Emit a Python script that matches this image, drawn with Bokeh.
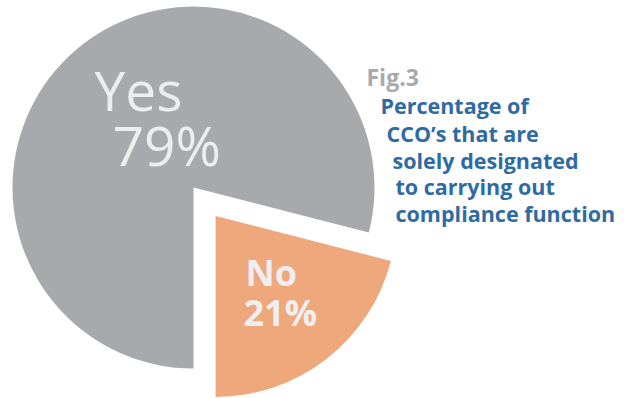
import math
from bokeh.plotting import figure
from bokeh.models import ColumnDataSource, Range1d
from bokeh.core.properties import value
from bokeh.embed import file_html
from bokeh.resources import INLINE

# ---- data ----
categories = ["No", "Yes"]
percentages = [21, 79]
pct_labels = ["21%", "79%"]
slice_colors = ["#efa77c", "#a7a9ac"]
explode = [36, 0]
fig_label = "Fig.3"
title_lines = ["Percentage of", "CCO\u2019s that are", "solely designated",
               "to carrying out", "compliance function"]

W, H = 629, 398
cx, cy, R = 193, H - 187, 181

p = figure(width=W, height=H, x_range=Range1d(0, W), y_range=Range1d(0, H),
           output_backend="svg", toolbar_location=None, min_border=0)
p.axis.visible = False
p.grid.visible = False
p.outline_line_color = None
p.background_fill_color = "white"
p.border_fill_color = "white"

total = sum(percentages)
start = -math.pi / 2
xs, ys, starts, ends = [], [], [], []
for pct, ex in zip(percentages, explode):
    sweep = 2 * math.pi * pct / total
    mid = start + sweep / 2
    xs.append(cx + ex * math.cos(mid))
    ys.append(cy + ex * math.sin(mid))
    starts.append(start)
    ends.append(start + sweep)
    start += sweep

src = ColumnDataSource(dict(x=xs, y=ys, start=starts, end=ends, color=slice_colors,
                            cat=categories, pct=pct_labels))
p.wedge(x="x", y="y", radius=R, start_angle="start", end_angle="end",
        direction="anticlock", fill_color="color", line_color=None, source=src)

# Yes label (regular, large)
p.text(x=[94, 112], y=[H - 89, H - 144], text=[categories[1], pct_labels[1]],
       text_font=value("Open Sans"), text_font_size="55px", text_color="#ededed",
       text_baseline="alphabetic", text_align="left")
# No label (bold)
p.text(x=[245, 243], y=[H - 272, H - 312], text=[categories[0], pct_labels[0]],
       text_font=value("Open Sans"), text_font_size="36px", text_font_style="bold",
       text_color="#efefef", text_baseline="alphabetic", text_align="left")

# Fig label
p.text(x=[366], y=[H - 76], text=[fig_label], text_font=value("Open Sans"),
       text_font_size="23px", text_font_style="bold", text_color="#a7a9ac",
       text_baseline="alphabetic")
# title lines
tx = [380, 386, 392, 395, 395]
ty = [H - 105, H - 133, H - 160, H - 186, H - 213]
p.text(x=tx, y=ty, text=title_lines, text_font=value("Open Sans"),
       text_font_size="21.5px", text_font_style="bold", text_color="#2f6ba3",
       text_baseline="alphabetic")

open("out.html", "w").write(file_html(p, INLINE))
